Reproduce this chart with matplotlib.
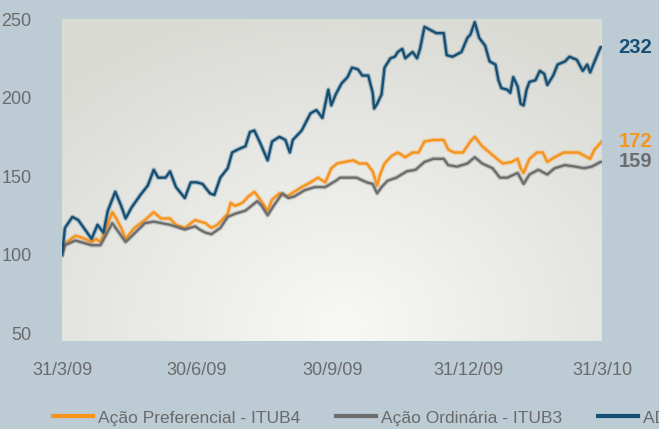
import numpy as np
import pandas as pd
import matplotlib
matplotlib.use("Agg")
import matplotlib.pyplot as plt
import matplotlib.patheffects as pe

# days since 31/3/09 and index values (base 100)
adr_days = [0, 2, 7, 11, 14, 20, 24, 28, 31, 36, 40, 43, 47, 53, 58, 62, 65, 70, 73, 77,
            83, 87, 91, 95, 100, 103, 107, 112, 115, 119, 124, 127, 130, 134, 139, 142,
            147, 151, 154, 156, 162, 168, 172, 176, 180, 182, 185, 189, 193, 196, 200,
            203, 207, 210, 211, 213, 216, 218, 222, 225, 227, 230, 232, 237, 240, 242,
            245, 249, 253, 258, 260, 264, 270, 274, 276, 279, 282, 286, 289, 293, 295,
            297, 301, 303, 305, 308, 310, 312, 314, 316, 320, 323, 326, 328, 332, 335,
            340, 343, 348, 352, 355, 357, 360, 364, 365]
adr_vals = [100, 117, 124, 122, 118, 110, 119, 114, 128, 140, 131, 123, 130, 138, 144, 154,
            149, 149, 153, 143, 136, 146, 146, 145, 139, 138, 149, 155, 165, 167, 169, 178,
            179, 171, 160, 172, 175, 173, 165, 173, 179, 190, 192, 187, 205, 195, 202, 209,
            213, 219, 218, 214, 214, 203, 193, 196, 202, 219, 225, 226, 229, 231, 225, 229,
            225, 231, 245, 243, 241, 241, 227, 226, 229, 238, 240, 248, 238, 233, 223, 221,
            211, 206, 205, 203, 213, 207, 196, 195, 205, 210, 211, 217, 215, 208, 214, 221,
            223, 226, 224, 217, 221, 216, 223, 232, 232]

pn_days = [0, 2, 9, 13, 20, 23, 26, 30, 34, 36, 40, 43, 49, 56, 62, 67, 73, 77, 83, 90,
           97, 101, 105, 112, 114, 117, 122, 126, 130, 134, 139, 142, 147, 152, 157, 162,
           168, 173, 178, 182, 186, 191, 197, 201, 206, 210, 213, 215, 218, 223, 227, 232,
           237, 241, 245, 251, 258, 261, 265, 271, 276, 279, 284, 289, 294, 298, 304, 308,
           310, 312, 316, 321, 325, 328, 333, 339, 343, 349, 353, 357, 360, 364, 365]
pn_vals = [100, 107, 112, 111, 108, 110, 108, 117, 127, 124, 117, 110, 117, 122, 127, 123,
           123, 119, 117, 122, 120, 117, 119, 126, 133, 131, 133, 137, 140, 135, 128, 135,
           139, 137, 140, 143, 146, 149, 146, 155, 158, 159, 160, 158, 158, 153, 144, 151,
           158, 163, 165, 162, 165, 165, 172, 173, 173, 167, 165, 165, 172, 175, 169, 165,
           161, 158, 159, 161, 155, 152, 161, 165, 165, 159, 162, 165, 165, 165, 163, 161,
           167, 171, 172]

on_days = [0, 2, 9, 20, 26, 34, 43, 56, 62, 73, 83, 90, 93, 97, 101, 107, 112, 117, 124,
           132, 135, 139, 143, 149, 153, 157, 164, 171, 178, 185, 188, 193, 199, 206, 210,
           213, 216, 220, 226, 233, 239, 245, 251, 258, 261, 267, 274, 279, 284, 291, 296,
           301, 308, 312, 316, 322, 328, 333, 340, 347, 353, 358, 364, 365]
on_vals = [100, 106, 109, 106, 106, 120, 108, 120, 121, 119, 116, 118, 116, 114, 113, 117,
           124, 126, 128, 134, 131, 125, 131, 139, 136, 137, 141, 143, 143, 147, 149, 149,
           149, 146, 145, 139, 143, 147, 149, 153, 154, 159, 161, 161, 157, 156, 158, 162,
           158, 155, 149, 149, 152, 145, 151, 154, 151, 155, 157, 156, 155, 156, 159, 159]

labels = ["Ação Preferencial - ITUB4", "Ação Ordinária - ITUB3", "ADR - ITUB"]
end_labels = ["172", "159", "232"]
tick_dates = ["2009-03-31", "2009-06-30", "2009-09-30", "2009-12-31", "2010-03-31"]
tick_labels = ["31/3/09", "30/6/09", "30/9/09", "31/12/09", "31/3/10"]

start = pd.Timestamp("2009-03-31")
def to_dates(d):
    return start + pd.to_timedelta(d, unit="D")

colors = ["#f7941e", "#6d6d6d", "#154f74"]
bg = "#bccbd4"
txt = "#6b6b6b"

plt.rcParams["font.family"] = ["Liberation Sans", "DejaVu Sans"]

fig = plt.figure(figsize=(6.59, 4.29), dpi=100, facecolor=bg)
ax = fig.add_axes([62 / 659, 1 - 341 / 429, 540 / 659, 322 / 429])
ax.set_facecolor(bg)

# gradient background of plot area
gx, gy = np.meshgrid(np.linspace(0, 1, 300), np.linspace(0, 1, 200))
r = np.sqrt(((gx - 0.52) / 0.75) ** 2 + ((gy - 0.95) / 1.0) ** 2)
r = np.clip(r, 0, 1)
c0 = np.array([248, 248, 246]) / 255
c1 = np.array([218, 219, 213]) / 255
img = c0[None, None, :] * (1 - r[..., None]) + c1[None, None, :] * r[..., None]
ax.imshow(img, extent=[0, 1, 0, 1], transform=ax.transAxes, aspect="auto", zorder=0)

series = [(pn_days, pn_vals), (on_days, on_vals), (adr_days, adr_vals)]
for (d, v), c, lab in zip(series, colors, labels):
    ax.plot(to_dates(d), v, color=c, lw=1.7, label=lab, zorder=3,
            path_effects=[pe.Stroke(linewidth=3.4, foreground=c, alpha=0.3), pe.Normal()])

ax.set_xlim(start, to_dates(365))
ax.set_ylim(45, 250)
ax.set_yticks([50, 100, 150, 200, 250])
ax.set_xticks(pd.to_datetime(tick_dates))
ax.set_xticklabels(tick_labels)
ax.tick_params(axis="y", length=0, pad=22, labelsize=13, labelcolor=txt)
ax.tick_params(axis="x", length=0, pad=15, labelsize=13, labelcolor=txt)
for s in ax.spines.values():
    s.set_visible(False)

# end values
end_y = [172, 159, 232]
for lab, c, yv in zip(end_labels, colors, end_y):
    ax.annotate(lab, xy=(1, yv), xycoords=("axes fraction", "data"),
                xytext=(12, 0), textcoords="offset points", color=c,
                fontsize=14.5, fontweight="bold", va="center", ha="left",
                annotation_clip=False)

leg_handles = [plt.Line2D([], [], color=c, lw=3) for c in colors]
leg = fig.legend(handles=leg_handles, labels=labels, loc="center left",
                 bbox_to_anchor=(53 / 659, 1 - 418 / 429),
                 ncol=3, frameon=False, fontsize=12.5, handlelength=2.3, handletextpad=0.3,
                 columnspacing=2.05, borderaxespad=0, borderpad=0)
for t in leg.get_texts():
    t.set_color(txt)

fig.savefig("out.png", dpi=100, facecolor=bg)
